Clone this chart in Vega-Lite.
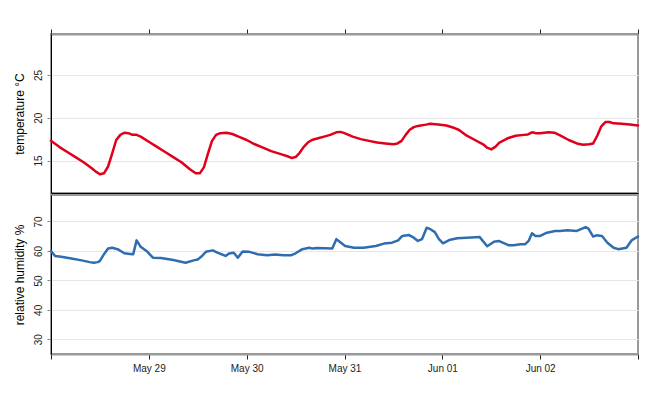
{
  "$schema": "https://vega.github.io/schema/vega-lite/v6.json",
  "padding": {"left": 11, "top": 27, "right": 10, "bottom": 5},
  "background": "white",
  "datasets": {
    "temp": [
      {"t": "2013-05-28T00:00", "v": 17.3}, {"t": "2013-05-28T02:00", "v": 16.6}, {"t": "2013-05-28T04:00", "v": 16.0},
      {"t": "2013-05-28T06:00", "v": 15.4}, {"t": "2013-05-28T08:00", "v": 14.8}, {"t": "2013-05-28T10:00", "v": 14.1},
      {"t": "2013-05-28T11:00", "v": 13.7}, {"t": "2013-05-28T12:00", "v": 13.4}, {"t": "2013-05-28T13:00", "v": 13.5},
      {"t": "2013-05-28T14:00", "v": 14.3}, {"t": "2013-05-28T15:00", "v": 15.8}, {"t": "2013-05-28T16:00", "v": 17.4},
      {"t": "2013-05-28T17:00", "v": 18.0}, {"t": "2013-05-28T18:00", "v": 18.25}, {"t": "2013-05-28T19:00", "v": 18.2},
      {"t": "2013-05-28T20:00", "v": 18.0}, {"t": "2013-05-28T21:00", "v": 18.0}, {"t": "2013-05-28T22:00", "v": 17.8},
      {"t": "2013-05-29T00:00", "v": 17.2}, {"t": "2013-05-29T02:00", "v": 16.6}, {"t": "2013-05-29T04:00", "v": 16.0},
      {"t": "2013-05-29T06:00", "v": 15.4}, {"t": "2013-05-29T08:00", "v": 14.8}, {"t": "2013-05-29T10:00", "v": 14.0},
      {"t": "2013-05-29T11:30", "v": 13.5}, {"t": "2013-05-29T12:30", "v": 13.5}, {"t": "2013-05-29T13:30", "v": 14.2},
      {"t": "2013-05-29T14:30", "v": 15.8}, {"t": "2013-05-29T15:30", "v": 17.3}, {"t": "2013-05-29T16:30", "v": 18.0},
      {"t": "2013-05-29T17:30", "v": 18.2}, {"t": "2013-05-29T19:00", "v": 18.25}, {"t": "2013-05-29T20:30", "v": 18.1},
      {"t": "2013-05-29T22:00", "v": 17.8}, {"t": "2013-05-30T00:00", "v": 17.4}, {"t": "2013-05-30T02:00", "v": 16.9},
      {"t": "2013-05-30T04:00", "v": 16.5}, {"t": "2013-05-30T06:00", "v": 16.1}, {"t": "2013-05-30T08:00", "v": 15.8},
      {"t": "2013-05-30T10:00", "v": 15.5}, {"t": "2013-05-30T11:00", "v": 15.3}, {"t": "2013-05-30T12:00", "v": 15.4},
      {"t": "2013-05-30T13:00", "v": 15.9}, {"t": "2013-05-30T14:00", "v": 16.6}, {"t": "2013-05-30T15:00", "v": 17.1},
      {"t": "2013-05-30T16:00", "v": 17.4}, {"t": "2013-05-30T17:30", "v": 17.6}, {"t": "2013-05-30T19:00", "v": 17.8},
      {"t": "2013-05-30T20:30", "v": 18.0}, {"t": "2013-05-30T22:00", "v": 18.3}, {"t": "2013-05-30T23:00", "v": 18.35},
      {"t": "2013-05-31T00:00", "v": 18.2}, {"t": "2013-05-31T02:00", "v": 17.8}, {"t": "2013-05-31T04:00", "v": 17.5},
      {"t": "2013-05-31T06:00", "v": 17.3}, {"t": "2013-05-31T08:00", "v": 17.1}, {"t": "2013-05-31T10:00", "v": 17.0},
      {"t": "2013-05-31T12:00", "v": 16.9}, {"t": "2013-05-31T13:00", "v": 17.0}, {"t": "2013-05-31T14:00", "v": 17.3},
      {"t": "2013-05-31T15:00", "v": 18.0}, {"t": "2013-05-31T16:00", "v": 18.6}, {"t": "2013-05-31T17:00", "v": 18.9},
      {"t": "2013-05-31T18:00", "v": 19.05}, {"t": "2013-05-31T20:00", "v": 19.2}, {"t": "2013-05-31T21:00", "v": 19.3},
      {"t": "2013-05-31T23:00", "v": 19.2}, {"t": "2013-06-01T01:00", "v": 19.1}, {"t": "2013-06-01T03:00", "v": 18.8},
      {"t": "2013-06-01T04:00", "v": 18.6}, {"t": "2013-06-01T06:00", "v": 17.9}, {"t": "2013-06-01T08:00", "v": 17.4},
      {"t": "2013-06-01T10:00", "v": 16.9}, {"t": "2013-06-01T11:00", "v": 16.5}, {"t": "2013-06-01T12:00", "v": 16.3},
      {"t": "2013-06-01T13:00", "v": 16.6}, {"t": "2013-06-01T14:00", "v": 17.1}, {"t": "2013-06-01T16:00", "v": 17.6},
      {"t": "2013-06-01T18:00", "v": 17.9}, {"t": "2013-06-01T20:00", "v": 18.0}, {"t": "2013-06-01T21:00", "v": 18.05},
      {"t": "2013-06-01T22:00", "v": 18.3}, {"t": "2013-06-01T23:00", "v": 18.2}, {"t": "2013-06-02T00:00", "v": 18.2},
      {"t": "2013-06-02T02:00", "v": 18.3}, {"t": "2013-06-02T03:30", "v": 18.25}, {"t": "2013-06-02T05:00", "v": 17.9},
      {"t": "2013-06-02T07:00", "v": 17.4}, {"t": "2013-06-02T09:00", "v": 17.0}, {"t": "2013-06-02T10:30", "v": 16.85},
      {"t": "2013-06-02T12:00", "v": 16.9}, {"t": "2013-06-02T13:00", "v": 17.0}, {"t": "2013-06-02T14:00", "v": 17.9},
      {"t": "2013-06-02T15:00", "v": 19.0}, {"t": "2013-06-02T16:00", "v": 19.5}, {"t": "2013-06-02T17:00", "v": 19.5},
      {"t": "2013-06-02T18:00", "v": 19.35}, {"t": "2013-06-02T20:00", "v": 19.3}, {"t": "2013-06-02T22:00", "v": 19.2},
      {"t": "2013-06-03T00:00", "v": 19.1}
    ],
    "rh": [
      {"t": "2013-05-28T00:00", "v": 60.0}, {"t": "2013-05-28T01:00", "v": 58.3}, {"t": "2013-05-28T02:30", "v": 58.0},
      {"t": "2013-05-28T05:00", "v": 57.4}, {"t": "2013-05-28T07:30", "v": 56.8}, {"t": "2013-05-28T09:30", "v": 56.2},
      {"t": "2013-05-28T10:30", "v": 56.0}, {"t": "2013-05-28T11:30", "v": 56.2}, {"t": "2013-05-28T12:00", "v": 56.6},
      {"t": "2013-05-28T13:00", "v": 58.9}, {"t": "2013-05-28T14:00", "v": 60.8}, {"t": "2013-05-28T15:00", "v": 61.1},
      {"t": "2013-05-28T16:20", "v": 60.6}, {"t": "2013-05-28T18:00", "v": 59.2}, {"t": "2013-05-28T19:20", "v": 59.0},
      {"t": "2013-05-28T20:10", "v": 58.9}, {"t": "2013-05-28T21:00", "v": 63.6}, {"t": "2013-05-28T22:00", "v": 61.4},
      {"t": "2013-05-28T23:40", "v": 59.7}, {"t": "2013-05-29T01:00", "v": 57.7}, {"t": "2013-05-29T03:00", "v": 57.6},
      {"t": "2013-05-29T06:00", "v": 56.9}, {"t": "2013-05-29T09:00", "v": 56.0}, {"t": "2013-05-29T11:00", "v": 56.8},
      {"t": "2013-05-29T12:00", "v": 57.1}, {"t": "2013-05-29T12:50", "v": 58.0}, {"t": "2013-05-29T14:00", "v": 59.7},
      {"t": "2013-05-29T15:40", "v": 60.2}, {"t": "2013-05-29T16:50", "v": 59.4}, {"t": "2013-05-29T18:50", "v": 58.3},
      {"t": "2013-05-29T19:40", "v": 59.1}, {"t": "2013-05-29T20:50", "v": 59.4}, {"t": "2013-05-29T21:50", "v": 57.7},
      {"t": "2013-05-29T23:00", "v": 59.8}, {"t": "2013-05-30T00:40", "v": 59.7}, {"t": "2013-05-30T02:40", "v": 58.9},
      {"t": "2013-05-30T05:00", "v": 58.5}, {"t": "2013-05-30T07:00", "v": 58.8}, {"t": "2013-05-30T09:00", "v": 58.5},
      {"t": "2013-05-30T10:50", "v": 58.5}, {"t": "2013-05-30T12:00", "v": 59.2}, {"t": "2013-05-30T13:40", "v": 60.6},
      {"t": "2013-05-30T15:20", "v": 61.1}, {"t": "2013-05-30T16:10", "v": 60.8}, {"t": "2013-05-30T17:20", "v": 61.0},
      {"t": "2013-05-30T21:00", "v": 60.8}, {"t": "2013-05-30T22:00", "v": 64.0}, {"t": "2013-05-31T00:10", "v": 61.7},
      {"t": "2013-05-31T02:20", "v": 61.1}, {"t": "2013-05-31T04:40", "v": 61.1}, {"t": "2013-05-31T07:40", "v": 61.7},
      {"t": "2013-05-31T09:40", "v": 62.5}, {"t": "2013-05-31T11:40", "v": 62.8}, {"t": "2013-05-31T13:10", "v": 63.6},
      {"t": "2013-05-31T14:10", "v": 65.1}, {"t": "2013-05-31T15:50", "v": 65.4}, {"t": "2013-05-31T17:00", "v": 64.5},
      {"t": "2013-05-31T18:00", "v": 63.4}, {"t": "2013-05-31T19:00", "v": 64.0}, {"t": "2013-05-31T20:10", "v": 67.9},
      {"t": "2013-05-31T21:10", "v": 67.3}, {"t": "2013-05-31T22:10", "v": 66.4}, {"t": "2013-05-31T23:10", "v": 64.0},
      {"t": "2013-06-01T00:10", "v": 62.6}, {"t": "2013-06-01T01:40", "v": 63.7}, {"t": "2013-06-01T03:40", "v": 64.3},
      {"t": "2013-06-01T06:00", "v": 64.5}, {"t": "2013-06-01T09:10", "v": 64.7}, {"t": "2013-06-01T11:00", "v": 61.6},
      {"t": "2013-06-01T12:40", "v": 63.1}, {"t": "2013-06-01T13:50", "v": 63.4}, {"t": "2013-06-01T16:20", "v": 61.9},
      {"t": "2013-06-01T17:30", "v": 61.9}, {"t": "2013-06-01T19:10", "v": 62.3}, {"t": "2013-06-01T20:20", "v": 62.3},
      {"t": "2013-06-01T21:10", "v": 63.4}, {"t": "2013-06-01T22:00", "v": 66.0}, {"t": "2013-06-01T22:50", "v": 65.1},
      {"t": "2013-06-02T00:00", "v": 65.1}, {"t": "2013-06-02T01:40", "v": 66.2}, {"t": "2013-06-02T03:40", "v": 66.8},
      {"t": "2013-06-02T04:50", "v": 66.8}, {"t": "2013-06-02T06:40", "v": 67.0}, {"t": "2013-06-02T09:00", "v": 66.8},
      {"t": "2013-06-02T11:10", "v": 68.1}, {"t": "2013-06-02T11:50", "v": 67.6}, {"t": "2013-06-02T13:00", "v": 64.9},
      {"t": "2013-06-02T13:50", "v": 65.3}, {"t": "2013-06-02T15:10", "v": 65.1}, {"t": "2013-06-02T16:30", "v": 62.8},
      {"t": "2013-06-02T18:00", "v": 61.1}, {"t": "2013-06-02T19:10", "v": 60.6}, {"t": "2013-06-02T21:10", "v": 61.1},
      {"t": "2013-06-02T22:30", "v": 63.7}, {"t": "2013-06-03T00:00", "v": 64.9}
    ]
  },
  "config": {
    "font": "Liberation Sans",
    "view": {"stroke": "#999999", "strokeWidth": 2},
    "axis": {
      "labelFont": "Liberation Sans",
      "titleFont": "Liberation Sans",
      "labelFontSize": 10,
      "titleFontSize": 12,
      "titleFontWeight": "normal",
      "labelColor": "#222222",
      "titleColor": "#000000",
      "tickColor": "#222222",
      "domainColor": "#000000",
      "gridColor": "#e6e6e6",
      "gridWidth": 1
    },
    "line": {"strokeWidth": 2.5, "strokeJoin": "round", "strokeCap": "round"}
  },
  "spacing": 0,
  "vconcat": [
    {
      "width": 587,
      "height": 159,
      "data": {"name": "temp"},
      "layer": [
        {
          "mark": {"type": "line", "color": "#e0001b"},
          "encoding": {
            "x": {
              "field": "t", "type": "temporal",
              "scale": {"domain": [{"year": 2013, "month": 5, "date": 28}, {"year": 2013, "month": 6, "date": 3}]},
              "axis": {"orient": "top", "title": null, "labels": false, "grid": false, "domainColor": "#999999", "domainWidth": 2, "tickSize": 5,
                "values": [{"year": 2013, "month": 5, "date": 28}, {"year": 2013, "month": 5, "date": 29}, {"year": 2013, "month": 5, "date": 30}, {"year": 2013, "month": 5, "date": 31}, {"year": 2013, "month": 6, "date": 1}, {"year": 2013, "month": 6, "date": 2}, {"year": 2013, "month": 6, "date": 3}]}
            },
            "y": {
              "field": "v", "type": "quantitative",
              "scale": {"domain": [11.2, 29.8], "nice": false, "zero": false},
              "axis": {"title": "temperature °C", "values": [15, 20, 25], "labelAngle": -90, "tickSize": 4, "tickColor": "#888888", "labelPadding": 4, "titlePadding": 7, "grid": true}
            }
          }
        },
        {
          "mark": {"type": "line", "strokeOpacity": 0},
          "encoding": {
            "x": {
              "field": "t", "type": "temporal",
              "axis": {"orient": "bottom", "title": null, "labels": false, "ticks": false, "grid": false, "domainColor": "#000000", "domainWidth": 1}
            },
            "y": {"field": "v", "type": "quantitative"}
          }
        }
      ],
      "resolve": {"axis": {"x": "independent"}}
    },
    {
      "width": 587,
      "height": 159,
      "data": {"name": "rh"},
      "mark": {"type": "line", "color": "#2f6db0"},
      "encoding": {
        "x": {
          "field": "t", "type": "temporal",
          "scale": {"domain": [{"year": 2013, "month": 5, "date": 28}, {"year": 2013, "month": 6, "date": 3}]},
          "axis": {"orient": "bottom", "title": null, "grid": false, "domainColor": "#999999", "domainWidth": 2, "tickSize": 5, "labelPadding": 4,
            "values": [{"year": 2013, "month": 5, "date": 28}, {"year": 2013, "month": 5, "date": 29}, {"year": 2013, "month": 5, "date": 30}, {"year": 2013, "month": 5, "date": 31}, {"year": 2013, "month": 6, "date": 1}, {"year": 2013, "month": 6, "date": 2}, {"year": 2013, "month": 6, "date": 3}],
            "labelExpr": "datum.index == 0 || datum.index == 1 ? '' : timeFormat(datum.value, '%b %d')"}
        },
        "y": {
          "field": "v", "type": "quantitative",
          "scale": {"domain": [25, 79], "nice": false, "zero": false},
          "axis": {"title": "relative humidity %", "values": [30, 40, 50, 60, 70], "labelAngle": -90, "tickSize": 4, "tickColor": "#888888", "labelPadding": 4, "titlePadding": 7, "grid": true}
        }
      }
    }
  ]
}
